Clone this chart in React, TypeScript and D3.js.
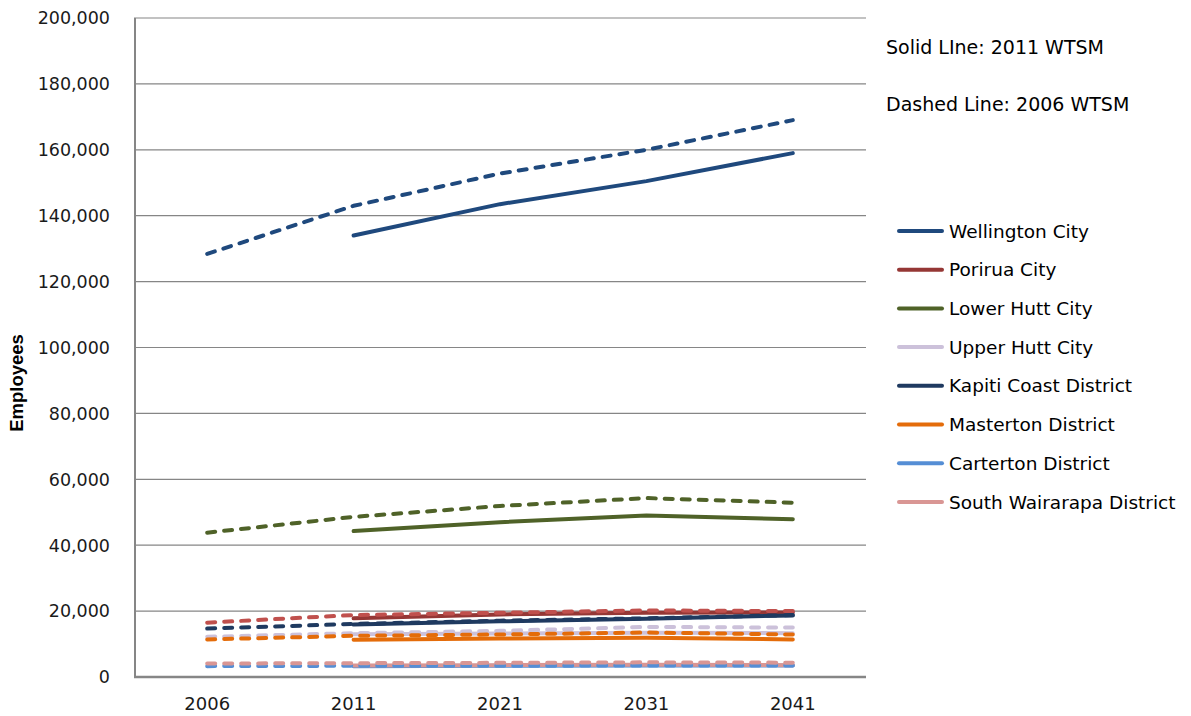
import React from "react";
import * as d3 from "d3";

const categories = ["2006", "2011", "2021", "2031", "2041"];
const yTicks = [0, 20000, 40000, 60000, 80000, 100000, 120000, 140000, 160000, 180000, 200000];

const regions = [
  "Wellington City",
  "Porirua City",
  "Lower Hutt City",
  "Upper Hutt City",
  "Kapiti Coast District",
  "Masterton District",
  "Carterton District",
  "South Wairarapa District",
];

const solidColors = ["#1F497D", "#953735", "#4F6228", "#CCC1DA", "#1F3A60", "#E46C0A", "#558ED5", "#D99694"];
const dashedColors = ["#1F497D", "#C0504D", "#4F6228", "#CCC1DA", "#1F3A60", "#E46C0A", "#558ED5", "#D99694"];

// 2011 WTSM (solid) — values for 2011, 2021, 2031, 2041
const wellington2011 = [134000, 143500, 150500, 159000];
const porirua2011 = [17800, 19000, 19500, 19600];
const lowerHutt2011 = [44300, 47000, 49000, 47900];
const upperHutt2011 = [13000, 13200, 13400, 13300];
const kapiti2011 = [15900, 16900, 17700, 18700];
const masterton2011 = [11300, 11700, 11900, 11400];
const carterton2011 = [3300, 3400, 3500, 3500];
const southWairarapa2011 = [3500, 3600, 3700, 3600];

// 2006 WTSM (dashed) — values for 2006, 2011, 2021, 2031, 2041
const wellington2006 = [128400, 143000, 152800, 160000, 169000];
const porirua2006 = [16500, 18800, 19500, 20200, 20000];
const lowerHutt2006 = [43800, 48600, 51900, 54300, 52900];
const upperHutt2006 = [12200, 13300, 14000, 15200, 15000];
const kapiti2006 = [14700, 16100, 17100, 17800, 18800];
const masterton2006 = [11400, 12500, 12900, 13500, 12900];
const carterton2006 = [3300, 3400, 3400, 3500, 3500];
const southWairarapa2006 = [4100, 4200, 4300, 4450, 4350];

const solidSeries = [wellington2011, porirua2011, lowerHutt2011, upperHutt2011, kapiti2011, masterton2011, carterton2011, southWairarapa2011];
const dashedSeries = [wellington2006, porirua2006, lowerHutt2006, upperHutt2006, kapiti2006, masterton2006, carterton2006, southWairarapa2006];

const W = 1191;
const H = 716;
const left = 134;
const right = 866;
const top = 18;
const bottom = 677;

export default function App() {
  const x = d3.scalePoint<string>().domain(categories).range([left, right]).padding(0.5);
  const y = d3.scaleLinear().domain([0, 200000]).range([bottom, top]);
  const fmt = d3.format(",");

  const line = d3
    .line<[string, number]>()
    .x((d) => x(d[0]) as number)
    .y((d) => y(d[1]));

  const font = "'DejaVu Sans', sans-serif";

  return (
    <svg
      width={W}
      height={H}
      style={{ position: "absolute", left: 0, top: 0, background: "#fff" }}
      fontFamily={font}
    >
      {/* gridlines */}
      {yTicks.map((t) =>
        t === 0 ? null : (
          <line key={t} x1={left} x2={right} y1={y(t)} y2={y(t)} stroke="#868686" strokeWidth={1.2} />
        )
      )}
      {/* axes */}
      <line x1={left + 1} x2={left + 1} y1={top} y2={bottom + 1} stroke="#868686" strokeWidth={2} />
      <line x1={left} x2={right} y1={bottom} y2={bottom} stroke="#868686" strokeWidth={2.4} />

      {/* y tick labels */}
      {yTicks.map((t) => (
        <text key={t} x={110} y={y(t)} dy="0.36em" textAnchor="end" fontSize={17.5} fill="#1a1a1a">
          {fmt(t)}
        </text>
      ))}
      {/* x tick labels */}
      {categories.map((c) => (
        <text key={c} x={x(c) as number} y={710} textAnchor="middle" fontSize={18} fill="#1a1a1a">
          {c}
        </text>
      ))}

      {/* y axis title */}
      <text
        transform={`translate(23, ${383}) rotate(-90)`}
        textAnchor="middle"
        fontSize={18.5}
        fontWeight="bold"
        fontFamily="'Liberation Sans Narrow', 'Liberation Sans', Arial, sans-serif"
        fill="#000"
      >
        Employees
      </text>

      {/* solid series (2011 WTSM) */}
      {solidSeries.map((vals, i) => (
        <path
          key={"s" + i}
          d={line(categories.slice(1).map((c, j) => [c, vals[j]] as [string, number])) || ""}
          fill="none"
          stroke={solidColors[i]}
          strokeWidth={4}
          strokeLinecap="round"
          strokeLinejoin="round"
        />
      ))}
      {/* dashed series (2006 WTSM) */}
      {dashedSeries.map((vals, i) => (
        <path
          key={"d" + i}
          d={line(categories.map((c, j) => [c, vals[j]] as [string, number])) || ""}
          fill="none"
          stroke={dashedColors[i]}
          strokeWidth={4}
          strokeDasharray="8,9"
          strokeLinecap="round"
          strokeLinejoin="round"
        />
      ))}

      {/* annotations */}
      <text x={886} y={47} dy="0.36em" fontSize={19} fill="#000">
        Solid LIne: 2011 WTSM
      </text>
      <text x={886} y={104} dy="0.36em" fontSize={19} fill="#000">
        Dashed Line: 2006 WTSM
      </text>

      {/* legend */}
      {regions.map((r, i) => {
        const ly = 231 + i * 38.7;
        return (
          <g key={r}>
            <line x1={899} x2={942} y1={ly} y2={ly} stroke={solidColors[i]} strokeWidth={4} strokeLinecap="round" />
            <text x={949} y={ly} dy="0.36em" fontSize={18.5} fill="#000">
              {r}
            </text>
          </g>
        );
      })}
    </svg>
  );
}
